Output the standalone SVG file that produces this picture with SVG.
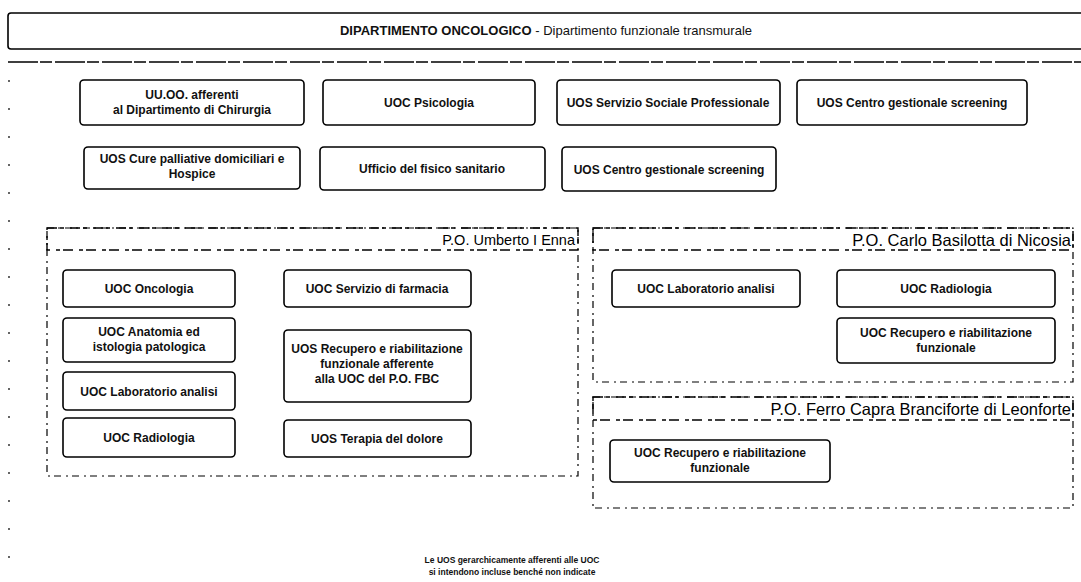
<svg xmlns="http://www.w3.org/2000/svg" width="1081" height="582" viewBox="0 0 1081 582">
  <style>
    .box { fill: #fff; stroke: #000; stroke-width: 1.6; }
    .sec { fill: none; stroke: #000; stroke-width: 1.2; stroke-dasharray: 7 4 2 5; }
    .hdr { fill: none; stroke: #000; stroke-width: 1.4; stroke-dasharray: 10 3 4 6; }
    .t { font-family: "Liberation Sans", Arial, sans-serif; font-size: 12px; font-weight: bold; fill: #111; text-anchor: middle; }
    .head { font-size: 13px; font-weight: normal; }
    .head .b { font-weight: bold; }
    .title { font-family: "Liberation Sans", Arial, sans-serif; font-size: 14.5px; fill: #000; text-anchor: end; }
    .title.lg { font-size: 16.5px; }
    .note { font-family: "Liberation Sans", Arial, sans-serif; font-size: 8.5px; font-weight: bold; fill: #111; text-anchor: middle; }
  </style>
  <rect width="1081" height="582" fill="#fff"/>

  <!-- department header -->
  <g id="header">
    <rect x="8" y="13" width="1085" height="36" rx="3" class="box"/>
    <text x="546" y="35" class="t head"><tspan class="b">DIPARTIMENTO ONCOLOGICO</tspan> - Dipartimento funzionale transmurale</text>
  </g>

  <g id="connectors">
    <line x1="8" y1="62" x2="1081" y2="62" stroke="#000" stroke-width="1.4" stroke-dasharray="30 2 12 3"/>
    <line x1="9" y1="80" x2="9" y2="565" stroke="#000" stroke-width="1.2" stroke-dasharray="2 26"/>
  </g>

  <!-- department-level units -->
  <g id="n-uuoo">
    <rect x="80" y="80" width="224" height="45" rx="4" class="box"/>
    <text x="192" y="99" class="t">UU.OO. afferenti</text>
    <text x="192" y="114" class="t">al Dipartimento di Chirurgia</text>
  </g>
  <g id="n-psicologia">
    <rect x="323" y="80" width="212" height="45" rx="4" class="box"/>
    <text x="429" y="107" class="t">UOC Psicologia</text>
  </g>
  <g id="n-servizio-sociale">
    <rect x="557" y="80" width="223" height="45" rx="4" class="box"/>
    <text x="668" y="107" class="t">UOS Servizio Sociale Professionale</text>
  </g>
  <g id="n-screening-1">
    <rect x="797" y="80" width="230" height="45" rx="4" class="box"/>
    <text x="912" y="107" class="t">UOS Centro gestionale screening</text>
  </g>
  <g id="n-cure-palliative">
    <rect x="84" y="147" width="216" height="42" rx="4" class="box"/>
    <text x="192" y="163" class="t">UOS Cure palliative domiciliari e</text>
    <text x="192" y="178" class="t">Hospice</text>
  </g>
  <g id="n-fisico-sanitario">
    <rect x="320" y="147" width="225" height="43" rx="4" class="box"/>
    <text x="432" y="173" class="t">Ufficio del fisico sanitario</text>
  </g>
  <g id="n-screening-2">
    <rect x="562" y="147" width="214" height="44" rx="4" class="box"/>
    <text x="669" y="174" class="t">UOS Centro gestionale screening</text>
  </g>

  <!-- P.O. Umberto I Enna -->
  <g id="po-enna">
    <rect x="47" y="228" width="531" height="248" class="sec"/>
    <rect x="47" y="228" width="531" height="22" class="hdr"/>
    <text x="575" y="245" class="title">P.O. Umberto I Enna</text>
  </g>
  <g id="n-oncologia">
    <rect x="63" y="270" width="172" height="37" rx="4" class="box"/>
    <text x="149" y="293" class="t">UOC Oncologia</text>
  </g>
  <g id="n-anatomia">
    <rect x="63" y="318" width="172" height="44" rx="4" class="box"/>
    <text x="149" y="336" class="t">UOC Anatomia ed</text>
    <text x="149" y="351" class="t">istologia patologica</text>
  </g>
  <g id="n-laboratorio-enna">
    <rect x="63" y="372" width="172" height="38" rx="4" class="box"/>
    <text x="149" y="396" class="t">UOC Laboratorio analisi</text>
  </g>
  <g id="n-radiologia-enna">
    <rect x="63" y="418" width="172" height="39" rx="4" class="box"/>
    <text x="149" y="442" class="t">UOC Radiologia</text>
  </g>
  <g id="n-farmacia">
    <rect x="284" y="270" width="187" height="37" rx="4" class="box"/>
    <text x="377" y="293" class="t">UOC Servizio di farmacia</text>
  </g>
  <g id="n-recupero-enna">
    <rect x="284" y="330" width="187" height="72" rx="4" class="box"/>
    <text x="377" y="353" class="t">UOS Recupero e riabilitazione</text>
    <text x="377" y="368" class="t">funzionale afferente</text>
    <text x="377" y="383" class="t">alla UOC del P.O. FBC</text>
  </g>
  <g id="n-terapia-dolore">
    <rect x="284" y="420" width="187" height="37" rx="4" class="box"/>
    <text x="377" y="443" class="t">UOS Terapia del dolore</text>
  </g>

  <!-- P.O. Carlo Basilotta di Nicosia -->
  <g id="po-nicosia">
    <rect x="593" y="228" width="480" height="154" class="sec"/>
    <rect x="593" y="228" width="480" height="22" class="hdr"/>
    <text x="1071" y="246" class="title lg">P.O. Carlo Basilotta di Nicosia</text>
  </g>
  <g id="n-laboratorio-nicosia">
    <rect x="612" y="270" width="188" height="37" rx="4" class="box"/>
    <text x="706" y="293" class="t">UOC Laboratorio analisi</text>
  </g>
  <g id="n-radiologia-nicosia">
    <rect x="837" y="270" width="218" height="37" rx="4" class="box"/>
    <text x="946" y="293" class="t">UOC Radiologia</text>
  </g>
  <g id="n-recupero-nicosia">
    <rect x="837" y="318" width="218" height="45" rx="4" class="box"/>
    <text x="946" y="337" class="t">UOC Recupero e riabilitazione</text>
    <text x="946" y="352" class="t">funzionale</text>
  </g>

  <!-- P.O. Ferro Capra Branciforte di Leonforte -->
  <g id="po-leonforte">
    <rect x="593" y="397" width="480" height="111" class="sec"/>
    <rect x="593" y="397" width="480" height="23" class="hdr"/>
    <text x="1071" y="415" class="title lg">P.O. Ferro Capra Branciforte di Leonforte</text>
  </g>
  <g id="n-recupero-leonforte">
    <rect x="610" y="440" width="220" height="42" rx="4" class="box"/>
    <text x="720" y="457" class="t">UOC Recupero e riabilitazione</text>
    <text x="720" y="472" class="t">funzionale</text>
  </g>

  <!-- footnote -->
  <text x="512" y="563" class="note">Le UOS gerarchicamente afferenti alle UOC</text>
  <text x="512" y="575" class="note">si intendono incluse benché non indicate</text>
</svg>
